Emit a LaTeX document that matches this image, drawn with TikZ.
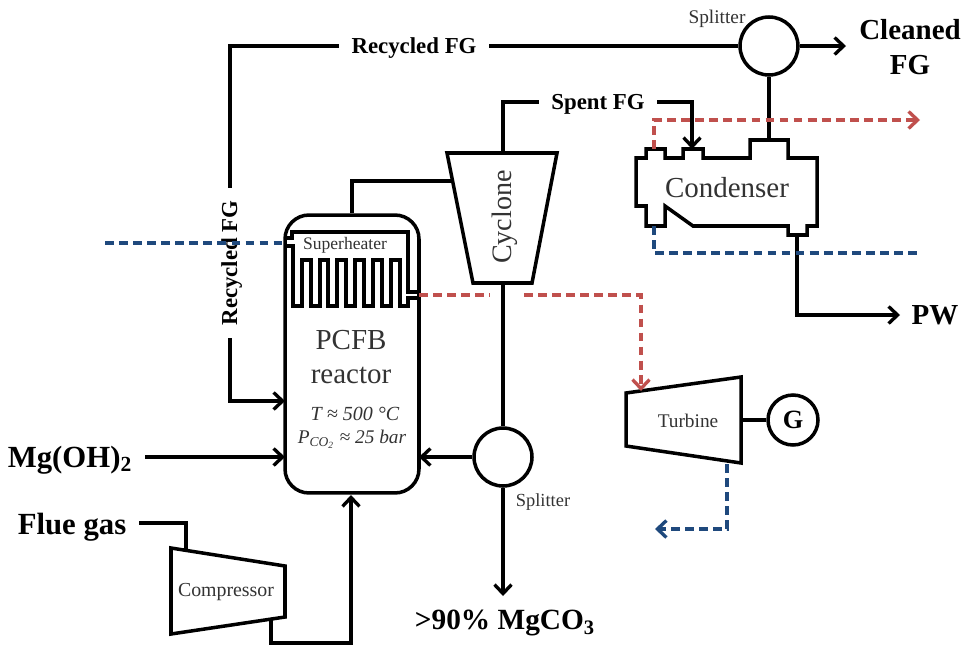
\documentclass[tikz,border=0pt]{standalone}
\usepackage{fontspec}
\setmainfont{Liberation Serif}
\usetikzlibrary{arrows.meta}
\definecolor{hotred}{HTML}{C0504D}
\definecolor{coldblue}{HTML}{1F497D}
\begin{document}
\begin{tikzpicture}[
    x=0.02cm, y=-0.02cm,
    unit/.style={draw, line width=2pt},
    pipe/.style={line width=1.9pt},
    arrow/.style={pipe, -{Straight Barb[length=1.8mm,width=3.4mm]}},
    hot/.style={pipe, color=hotred, dash pattern=on 5pt off 3pt},
    cold/.style={pipe, color=coldblue, dash pattern=on 5pt off 3pt},
    splitter/.style={draw, circle, line width=2pt, minimum size=1.16cm, inner sep=0pt},
    stream/.style={font=\bfseries\fontsize{13}{15}\selectfont, inner sep=7pt, text height=11pt, text depth=2.8pt},
    big/.style={font=\bfseries\fontsize{16.5}{19}\selectfont, align=center, inner sep=2pt},
    small/.style={font=\fontsize{11}{13}\selectfont, text=black!80, inner sep=1pt},
    medium/.style={font=\fontsize{16.5}{19}\selectfont, text=black!80, inner sep=1pt}
]
    \useasboundingbox (0,0) rectangle (966,646);

    % Reactor
    \node[draw, line width=2pt, rounded corners=0.48cm, minimum width=2.68cm, minimum height=5.56cm] (reactor) at (352,354) {};
    \node[small, font=\fontsize{10}{12}\selectfont] (superlabel) at (345,245) {Superheater};
    \node[medium] (pcfb) at (351,340) {PCFB};
    \node[medium] (reactorlabel) at (351,375) {reactor};
    \node[small, font=\itshape\fontsize{11.4}{13}\selectfont] (temp) at (355,414) {T ≈ 500 °C};
    \node[small, font=\itshape\fontsize{11}{13}\selectfont] (press) at (352,439) {P\textsubscript{CO\textsubscript{2}} ≈ 25 bar};
    \coordinate (rfg) at (285,401);
    \coordinate (rmg) at (285,457);
    \coordinate (rsplit) at (419,457);
    \coordinate (rcold) at (285,243);
    \coordinate (rhot) at (419,295);

    % Superheater tube
    \draw[pipe] (285,238) -- (292,238) -- (292,232) -- (408,232) -- (408,292) -- (419,292);
    \draw[pipe] (285,246) -- (293,246) -- (293,306) -- (302,306) -- (302,260) -- (311,260) -- (311,306)
        -- (320,306) -- (320,260) -- (328,260) -- (328,306) -- (337,306) -- (337,260) -- (346,260)
        -- (346,306) -- (355,306) -- (355,260) -- (364,260) -- (364,306) -- (373,306) -- (373,260)
        -- (382,260) -- (382,306) -- (391,306) -- (391,260) -- (400,260) -- (400,306) -- (408,306)
        -- (408,298) -- (419,298);

    % Cyclone
    \draw[unit] (447,153) -- (557,153) -- (532,283) -- (473,283) -- cycle;
    \node[medium, rotate=90, font=\fontsize{16}{19}\selectfont] (cyclone) at (505,217) {Cyclone};
    \coordinate (cyctop) at (503,153);
    \coordinate (cycbottom) at (503,283);
    \coordinate (cycleft) at (451,181);

    % Condenser
    \draw[unit] (636,158) -- (646,158) -- (646,149) -- (665,149) -- (665,158) -- (683,158) -- (683,149)
        -- (703,149) -- (703,158) -- (750,158) -- (750,140) -- (788,140) -- (788,158) -- (817,158)
        -- (817,226) -- (807,226) -- (807,235) -- (788,235) -- (788,226) -- (693,226) -- (665,206)
        -- (665,226) -- (646,226) -- (646,206) -- (636,206) -- cycle;
    \node[medium] (condenser) at (727,188) {Condenser};
    \coordinate (conhotport) at (654,149);
    \coordinate (coninport) at (692,149);
    \coordinate (contop) at (769,140);
    \coordinate (concold) at (654,226);
    \coordinate (conbottom) at (797,235);

    % Turbine and generator
    \draw[unit] (626,393) -- (741,377) -- (741,463) -- (626,446) -- cycle;
    \node[small] (turbine) at (688,421) {Turbine};
    \node[draw, circle, line width=2pt, minimum size=1cm, inner sep=0pt, font=\bfseries\fontsize{15}{17}\selectfont] (gen) at (793,420) {G};
    \coordinate (turbineout) at (741,420);
    \coordinate (turbinein) at (641,391);
    \coordinate (turbinedown) at (727,464);

    % Compressor
    \draw[unit] (171,548) -- (285,566) -- (285,617) -- (171,634) -- cycle;
    \node[small, font=\fontsize{11.3}{13}\selectfont] (compressor) at (226,592) {Compressor};
    \coordinate (compin) at (186,550);
    \coordinate (compout) at (271,620);

    % Splitters
    \node[splitter] (splittop) at (769,46) {};
    \node[splitter] (splitbottom) at (503,457) {};
    \node[small, font=\fontsize{11}{13}\selectfont] (splittoplabel) at (717,19) {Splitter};
    \node[small, font=\fontsize{10.5}{12}\selectfont] (splitbottomlabel) at (543,502) {Splitter};

    % Stream labels
    \node[stream] (fgtop) at (414,46) {Recycled FG};
    \node[stream, rotate=90] (fgleft) at (230,263) {Recycled FG};
    \node[stream] (spent) at (598,102) {Spent FG};
    \node[big] (cleaned) at (910,47) {Cleaned\\[1pt]FG};
    \node[big] (pw) at (935,315) {PW};
    \node[big, font=\bfseries\fontsize{17.5}{20}\selectfont] (mg) at (70,460) {Mg(OH)\textsubscript{2}};
    \node[big, font=\bfseries\fontsize{17.5}{20}\selectfont] (flue) at (72,527) {Flue gas};
    \node[big, font=\bfseries\fontsize{16.7}{19}\selectfont] (mgco) at (505,623) {>90\% MgCO\textsubscript{3}};

    % Free ends of the utility lines
    \coordinate (coldin) at (105,243);
    \coordinate (hotgap) at (490,295);
    \coordinate (hotresume) at (524,295);
    \coordinate (hotend) at (920,120);
    \coordinate (coldend) at (921,253);
    \coordinate (coldback) at (655,529);
    \coordinate (cleanedend) at (846,46);
    \coordinate (pwend) at (900,315);
    \coordinate (mgcoend) at (503,596);
    \coordinate (mgstart) at (145,457);
    \coordinate (fluestart) at (139,523);

    % Gas lines
    \draw[pipe] (splittop.west) -- (fgtop.east);
    \draw[pipe] (fgtop.west) -| (fgleft.east);
    \draw[arrow] (fgleft.west) |- (rfg);
    \draw[arrow] (mgstart) -- (rmg);
    \draw[pipe] (fluestart) -| (compin);
    \draw[arrow] (compout) |- (351,643) -- (351,495);
    \draw[pipe] (reactor.north) |- (cycleft);
    \draw[pipe] (cyctop) |- (spent.west);
    \draw[arrow] (spent.east) -| (coninport);
    \draw[arrow] (splittop.east) -- (cleanedend);
    \draw[pipe] (splittop.south) -- (contop);
    \draw[arrow] (conbottom) |- (pwend);

    % Solids lines
    \draw[pipe] (cycbottom) -- (splitbottom.north);
    \draw[arrow] (splitbottom.west) -- (rsplit);
    \draw[arrow] (splitbottom.south) -- (mgcoend);

    % Power
    \draw[pipe] (turbineout) -- (gen.west);

    % Steam and water lines
    \draw[cold] (coldin) -- (rcold);
    \draw[hot] (rhot) -- (hotgap);
    \draw[hot, -{Straight Barb[length=1.8mm,width=3.4mm]}] (hotresume) -| (turbinein);
    \draw[hot, -{Straight Barb[length=1.8mm,width=3.4mm]}] (conhotport) |- (hotend);
    \draw[cold] (concold) |- (coldend);
    \draw[cold, -{Straight Barb[length=1.8mm,width=3.4mm]}] (turbinedown) |- (coldback);
\end{tikzpicture}
\end{document}
